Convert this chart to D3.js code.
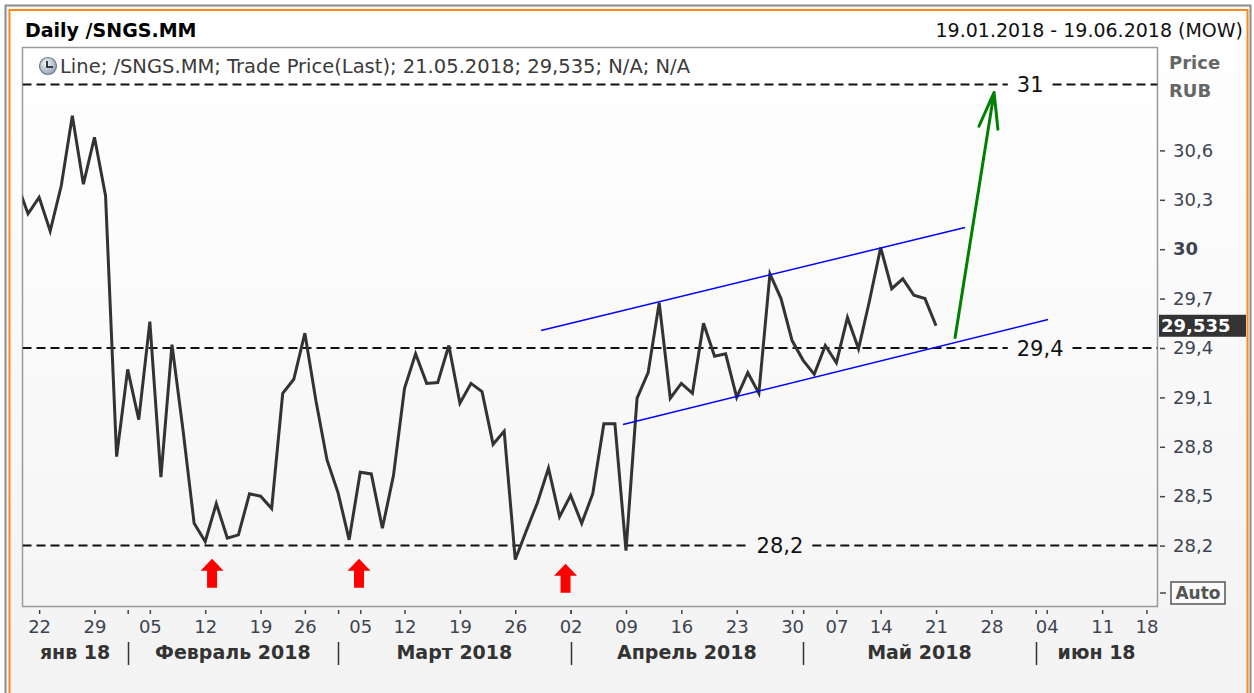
<!DOCTYPE html>
<html>
<head>
<meta charset="UTF-8">
<title>Daily /SNGS.MM</title>
<script src="https://cdn.jsdelivr.net/npm/d3@7"></script>
<style>
  body { margin: 0; background: #fff; }
  text { font-family: "DejaVu Sans", Verdana, sans-serif; }
</style>
</head>
<body>
<script>
// trading days (MOEX calendar), 18.01 sits just left of the plot edge
var tradingDays = [
  "2018-01-18","2018-01-19","2018-01-22","2018-01-23","2018-01-24","2018-01-25","2018-01-26","2018-01-29","2018-01-30","2018-01-31",
  "2018-02-01","2018-02-02","2018-02-05","2018-02-06","2018-02-07","2018-02-08","2018-02-09","2018-02-12","2018-02-13","2018-02-14",
  "2018-02-15","2018-02-16","2018-02-19","2018-02-20","2018-02-21","2018-02-22","2018-02-26","2018-02-27","2018-02-28",
  "2018-03-01","2018-03-02","2018-03-05","2018-03-06","2018-03-07","2018-03-09","2018-03-12","2018-03-13","2018-03-14","2018-03-15",
  "2018-03-16","2018-03-19","2018-03-20","2018-03-21","2018-03-22","2018-03-23","2018-03-26","2018-03-27","2018-03-28","2018-03-29","2018-03-30",
  "2018-04-02","2018-04-03","2018-04-04","2018-04-05","2018-04-06","2018-04-09","2018-04-10","2018-04-11","2018-04-12","2018-04-13",
  "2018-04-16","2018-04-17","2018-04-18","2018-04-19","2018-04-20","2018-04-23","2018-04-24","2018-04-25","2018-04-26","2018-04-27","2018-04-30",
  "2018-05-02","2018-05-03","2018-05-04","2018-05-07","2018-05-08","2018-05-10","2018-05-11","2018-05-14","2018-05-15","2018-05-16",
  "2018-05-17","2018-05-18","2018-05-21","2018-05-22","2018-05-23","2018-05-24","2018-05-25","2018-05-28","2018-05-29","2018-05-30","2018-05-31",
  "2018-06-01","2018-06-04","2018-06-05","2018-06-06","2018-06-07","2018-06-08","2018-06-11","2018-06-13","2018-06-14","2018-06-15",
  "2018-06-18","2018-06-19"
];

// close prices, 18.01 .. 21.05
var prices = [
  30.40, 30.215, 30.315, 30.11, 30.385, 30.81, 30.395, 30.68, 30.325, 28.74,
  29.27, 28.965, 29.56, 28.615, 29.42, 28.9, 28.335, 28.225, 28.455, 28.245,
  28.265, 28.515, 28.5, 28.425, 29.125, 29.21, 29.49, 29.08, 28.72, 28.52,
  28.235, 28.645, 28.635, 28.305, 28.625, 29.155, 29.365, 29.185, 29.19, 29.415,
  29.065, 29.185, 29.135, 28.815, 28.895, 28.115, 28.29, 28.46, 28.67, 28.375,
  28.505, 28.335, 28.515, 28.94, 28.94, 28.17, 29.095, 29.25, 29.675, 29.095,
  29.185, 29.125, 29.55, 29.35, 29.365, 29.1, 29.25, 29.125, 29.85, 29.7,
  29.445, 29.325, 29.24, 29.415, 29.31, 29.585, 29.395, 29.69, 30.01, 29.76,
  29.82, 29.72, 29.7, 29.535
];

var yTicks = [30.6, 30.3, 30, 29.7, 29.4, 29.1, 28.8, 28.5, 28.2];
var weekTicks = ["2018-01-22","2018-01-29","2018-02-05","2018-02-12","2018-02-19","2018-02-26","2018-03-05","2018-03-12",
  "2018-03-19","2018-03-26","2018-04-02","2018-04-09","2018-04-16","2018-04-23","2018-04-30","2018-05-07","2018-05-14",
  "2018-05-21","2018-05-28","2018-06-04","2018-06-11","2018-06-18"];
var monthStarts = ["2018-02-01","2018-03-01","2018-04-02","2018-05-02","2018-06-01"];
var monthLabels = ["янв 18","Февраль 2018","Март 2018","Апрель 2018","Май 2018","июн 18"];

// drawn annotations, in [trading-day index, price]
var levelValues = [31, 29.4, 28.2];
var levelLabels = ["31", "29,4", "28,2"];
var levelLabelAt = [91.5, 92.4, 68.9];
var channelUpper = [[47.33, 29.506], [85.62, 30.132]];
var channelLower = [[54.73, 28.935], [93.12, 29.573]];
var greenArrow = [[84.72, 29.464], [88.24, 30.952]];
var redArrowsAt = [[17.62, 28.12], [30.89, 28.12], [49.54, 28.09]];

var W = 1254, H = 693;
var pL = 22.5, pR = 1157.5, pT = 47.5, pB = 606.5;

var svg = d3.select("body").append("svg").attr("width", W).attr("height", H);
var defs = svg.append("defs");

var g1 = defs.append("linearGradient").attr("id", "frameBg").attr("x1", 0).attr("x2", 0).attr("y1", 0).attr("y2", 1);
g1.append("stop").attr("offset", "0%").attr("stop-color", "#ffffff");
g1.append("stop").attr("offset", "100%").attr("stop-color", "#f2f2f2");
var g2 = defs.append("linearGradient").attr("id", "plotBg").attr("x1", 0).attr("x2", 0).attr("y1", 0).attr("y2", 1);
g2.append("stop").attr("offset", "0%").attr("stop-color", "#ffffff");
g2.append("stop").attr("offset", "100%").attr("stop-color", "#f5f5f5");
var g3 = defs.append("radialGradient").attr("id", "clockBg").attr("cx", "40%").attr("cy", "35%").attr("r", "70%");
g3.append("stop").attr("offset", "0%").attr("stop-color", "#f4f7fb");
g3.append("stop").attr("offset", "100%").attr("stop-color", "#8d9fb3");
defs.append("clipPath").attr("id", "plotClip").append("rect")
  .attr("x", pL).attr("y", pT).attr("width", pR - pL).attr("height", pB - pT);

// outer frame
svg.append("rect").attr("x", 5.5).attr("y", 5.5).attr("width", 1245).attr("height", 720)
  .attr("fill", "#f7f7f7").attr("stroke", "#8c8c8c").attr("stroke-width", 2);
svg.append("rect").attr("x", 9.5).attr("y", 10).attr("width", 1238).attr("height", 720)
  .attr("fill", "url(#frameBg)").attr("stroke", "#ff8a1c").attr("stroke-width", 2);

// header
svg.append("text").attr("x", 25).attr("y", 37).attr("font-size", 19).attr("font-weight", "bold")
  .attr("fill", "#000").text("Daily /SNGS.MM");
svg.append("text").attr("x", 1243).attr("y", 37).attr("font-size", 19).attr("text-anchor", "end")
  .attr("fill", "#111").text("19.01.2018 - 19.06.2018 (MOW)");

// plot area
svg.append("rect").attr("x", pL).attr("y", pT).attr("width", pR - pL).attr("height", pB - pT)
  .attr("fill", "url(#plotBg)").attr("stroke", "#9a9a9a").attr("stroke-width", 1.5);

var x = d3.scaleLinear().domain([0.5, 103]).range([pL, pR]);
var y = d3.scaleLinear().domain([27.83, 31.225]).range([pB, pT]);
var dayIndex = function(d) { return tradingDays.indexOf(d); };
var comma = function(v) { return String(v).replace(".", ","); };

// legend line
var clock = svg.append("g").attr("transform", "translate(48,66)");
clock.append("circle").attr("r", 8.5).attr("fill", "url(#clockBg)").attr("stroke", "#6d7c8c").attr("stroke-width", 1.2);
clock.append("path").attr("d", "M-1,-5V1H5").attr("fill", "none").attr("stroke", "#111").attr("stroke-width", 1.6);
svg.append("text").attr("x", 60).attr("y", 73).attr("font-size", 19.5).attr("fill", "#3a3a3a")
  .text("Line; /SNGS.MM; Trade Price(Last); 21.05.2018; 29,535; N/A; N/A");

var plot = svg.append("g").attr("clip-path", "url(#plotClip)");

// dashed levels with their labels sitting in a gap
levelValues.forEach(function(v, i) {
  var lx = x(levelLabelAt[i]), ly = y(v);
  var t = plot.append("text").attr("x", lx).attr("y", ly).attr("dy", "0.36em").attr("text-anchor", "middle")
    .attr("font-size", 21).attr("fill", "#111").text(levelLabels[i]);
  var w = t.node().getComputedTextLength();
  [[pL, lx - w / 2 - 9], [lx + w / 2 + 9, pR]].forEach(function(s) {
    plot.append("line").attr("x1", s[0]).attr("x2", s[1]).attr("y1", ly).attr("y2", ly)
      .attr("stroke", "#111").attr("stroke-width", 2).attr("stroke-dasharray", "9,5");
  });
});

// price line
var line = d3.line().x(function(d, i) { return x(i); }).y(function(d) { return y(d); });
plot.append("path").datum(prices).attr("d", line).attr("fill", "none")
  .attr("stroke", "#333").attr("stroke-width", 3).attr("stroke-linejoin", "miter");

// channel
[channelUpper, channelLower].forEach(function(c) {
  plot.append("line").attr("x1", x(c[0][0])).attr("y1", y(c[0][1])).attr("x2", x(c[1][0])).attr("y2", y(c[1][1]))
    .attr("stroke", "#0000ff").attr("stroke-width", 1.5);
});

// green target arrow
var ax0 = x(greenArrow[0][0]), ay0 = y(greenArrow[0][1]), ax1 = x(greenArrow[1][0]), ay1 = y(greenArrow[1][1]);
var ang = Math.atan2(ay0 - ay1, ax0 - ax1);
var barb = function(s) {
  var a = ang + s * 15 * Math.PI / 180;
  return "M" + ax1 + "," + ay1 + "L" + (ax1 + 37 * Math.cos(a)) + "," + (ay1 + 37 * Math.sin(a));
};
plot.append("path").attr("d", "M" + ax0 + "," + ay0 + "L" + ax1 + "," + ay1 + barb(1) + barb(-1))
  .attr("fill", "none").attr("stroke", "#008000").attr("stroke-width", 3).attr("stroke-linecap", "round");

// red up arrows under the lows
plot.selectAll(".up").data(redArrowsAt).enter().append("path").attr("class", "up")
  .attr("transform", function(d) { return "translate(" + x(d[0]) + "," + y(d[1]) + ")"; })
  .attr("d", "M0,0L11.5,12H5V29H-5V12H-11.5Z").attr("fill", "#ff0000");

// right price axis
var yAxis = d3.axisRight(y).tickValues(yTicks).tickSize(5).tickPadding(8).tickFormat(comma);
var ya = svg.append("g").attr("transform", "translate(1160,0)").call(yAxis);
ya.select(".domain").remove();
ya.selectAll("line").attr("stroke", "#444").attr("stroke-width", 1.5);
ya.selectAll("text").attr("font-size", 18).attr("fill", "#3d4450").attr("font-family", "DejaVu Sans")
  .attr("font-weight", function(d) { return d === 30 ? "bold" : "normal"; });

svg.append("text").attr("x", 1169).attr("y", 69).attr("font-size", 18).attr("font-weight", "bold").attr("fill", "#666").text("Price");
svg.append("text").attr("x", 1169).attr("y", 97).attr("font-size", 18).attr("font-weight", "bold").attr("fill", "#666").text("RUB");

// last value tag
var lastY = y(prices[prices.length - 1]);
svg.append("rect").attr("x", 1159).attr("y", lastY - 11).attr("width", 87).attr("height", 22).attr("fill", "#333");
svg.append("text").attr("x", 1161).attr("y", lastY).attr("dy", "0.36em").attr("font-size", 18).attr("font-weight", "bold")
  .attr("fill", "#fff").text(comma(prices[prices.length - 1]));

// Auto box
svg.append("line").attr("x1", 1160).attr("x2", 1166).attr("y1", 593).attr("y2", 593).attr("stroke", "#444").attr("stroke-width", 1.5);
svg.append("rect").attr("x", 1171).attr("y", 582).attr("width", 54).attr("height", 22)
  .attr("fill", "#fbfbfb").attr("stroke", "#555").attr("stroke-width", 1.5);
svg.append("text").attr("x", 1198).attr("y", 593).attr("dy", "0.36em").attr("text-anchor", "middle")
  .attr("font-size", 17).attr("font-weight", "bold").attr("fill", "#555").text("Auto");

// time axis
var xAxis = d3.axisBottom(x).tickValues(weekTicks.map(dayIndex)).tickSize(4).tickPadding(6)
  .tickFormat(function(k) { return tradingDays[k].slice(8); });
var xa = svg.append("g").attr("transform", "translate(0,610)").call(xAxis);
xa.select(".domain").remove();
xa.selectAll("line").attr("stroke", "#444").attr("stroke-width", 1.5);
xa.selectAll("text").attr("font-size", 18).attr("fill", "#3d4450").attr("font-family", "DejaVu Sans");

var xm = svg.append("g").attr("transform", "translate(0,610)")
  .call(d3.axisBottom(x).tickValues(monthStarts.map(dayIndex)).tickSize(4).tickFormat(""));
xm.select(".domain").remove();
xm.selectAll("line").attr("stroke", "#444").attr("stroke-width", 1.5);

var bounds = [x.range()[0]].concat(monthStarts.map(function(d) { return x(dayIndex(d)); }), [x.range()[1]]);
monthStarts.forEach(function(d) {
  var mx = Math.round(x(dayIndex(d))) + 0.5;
  svg.append("line").attr("x1", mx).attr("x2", mx).attr("y1", 642).attr("y2", 665)
    .attr("stroke", "#333").attr("stroke-width", 1.5);
});
monthLabels.forEach(function(m, i) {
  svg.append("text").attr("x", (bounds[i] + bounds[i + 1]) / 2).attr("y", 659).attr("text-anchor", "middle")
    .attr("font-size", 19).attr("font-weight", "bold").attr("fill", "#333").text(m);
});
</script>
</body>
</html>
